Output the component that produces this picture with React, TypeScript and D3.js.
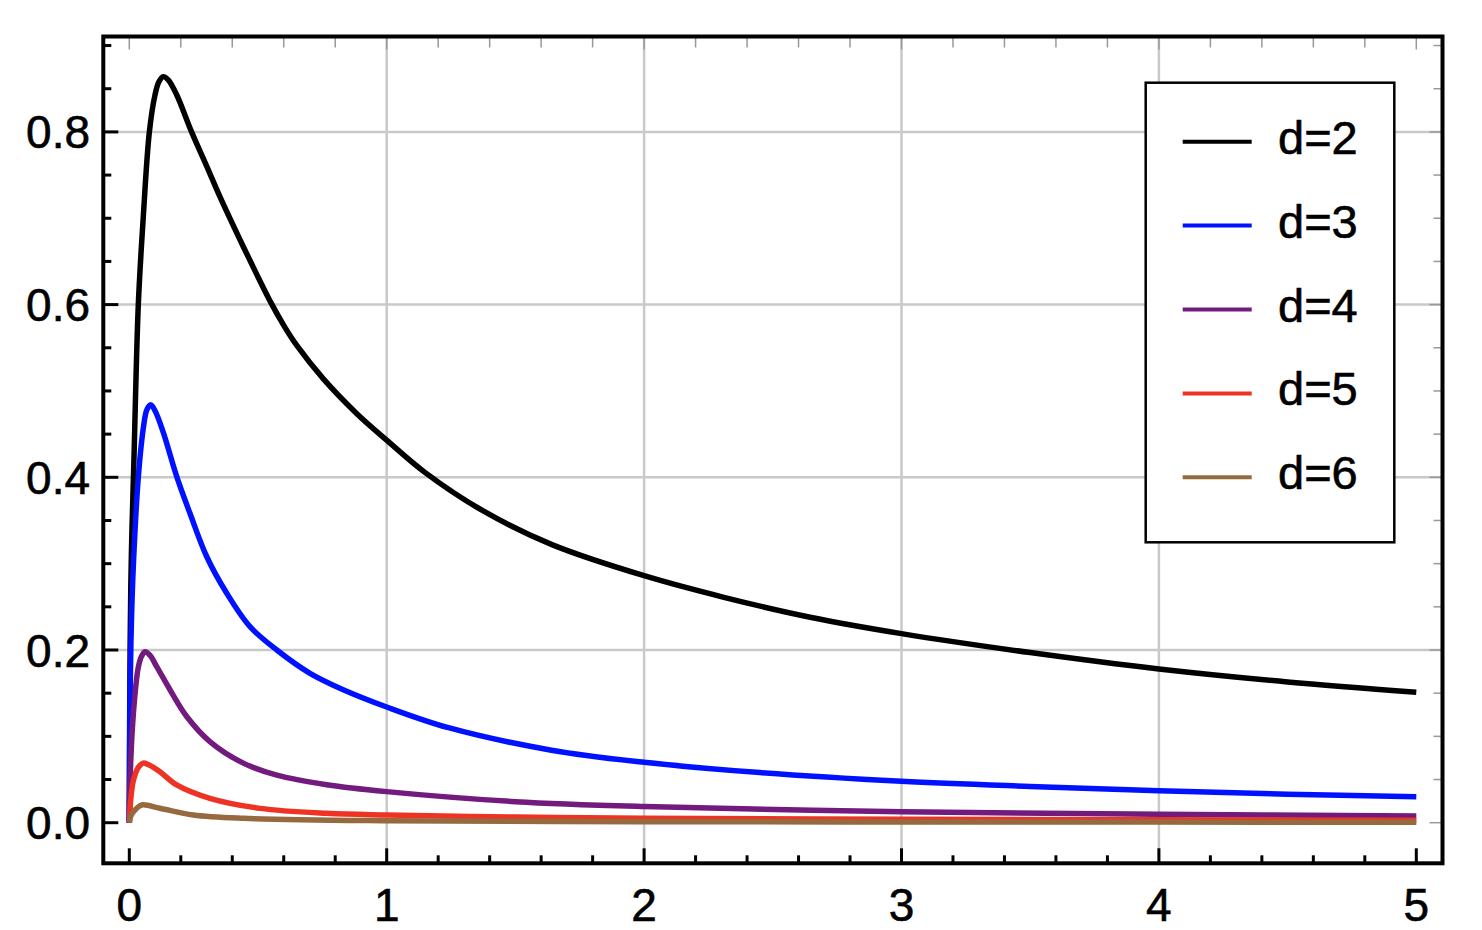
import React, { useEffect, useRef } from "react";
import * as d3 from "d3";

// series labels and colours
const labels = ["d=2", "d=3", "d=4", "d=5", "d=6"];
const colors = ["#000000", "#0011ff", "#721a7e", "#ee3224", "#946a3e"];

// values
const xD2 = [0, 0.003, 0.008, 0.018, 0.035, 0.054, 0.078, 0.1, 0.115, 0.132, 0.152, 0.184, 0.242, 0.301, 0.352, 0.443, 0.5, 0.547, 0.6, 0.65, 0.754, 0.883, 1.0, 1.147, 1.375, 1.642, 2.0, 2.31, 2.645, 3.0, 3.5, 4.0, 4.5, 5.0];
const yD2 = [0, 0.2, 0.31, 0.42, 0.6, 0.7, 0.8, 0.843, 0.858, 0.864, 0.86, 0.843, 0.8, 0.76, 0.725, 0.667, 0.632, 0.604, 0.576, 0.553, 0.514, 0.474, 0.443, 0.406, 0.361, 0.322, 0.286, 0.261, 0.238, 0.219, 0.197, 0.178, 0.163, 0.151];

const xD3 = [0, 0.003, 0.008, 0.016, 0.035, 0.055, 0.068, 0.083, 0.1, 0.132, 0.184, 0.236, 0.301, 0.378, 0.469, 0.573, 0.702, 0.831, 1.0, 1.24, 1.64, 2.0, 2.45, 3.0, 3.5, 4.0, 4.5, 5.0];
const yD3 = [0, 0.15, 0.23, 0.3, 0.4, 0.458, 0.478, 0.484, 0.477, 0.452, 0.401, 0.358, 0.308, 0.266, 0.227, 0.2, 0.173, 0.154, 0.134, 0.11, 0.084, 0.07, 0.058, 0.048, 0.042, 0.037, 0.033, 0.03];

const xD4 = [0, 0.003, 0.016, 0.035, 0.048, 0.061, 0.08, 0.106, 0.158, 0.223, 0.313, 0.443, 0.573, 0.767, 1.0, 1.5, 2.0, 3.0, 4.0, 5.0];
const yD4 = [0, 0.05, 0.127, 0.18, 0.193, 0.198, 0.194, 0.181, 0.154, 0.123, 0.094, 0.069, 0.055, 0.044, 0.036, 0.0244, 0.0187, 0.0127, 0.0097, 0.0078];

const xD5 = [0, 0.005, 0.016, 0.035, 0.054, 0.075, 0.119, 0.184, 0.313, 0.508, 0.767, 1.0, 1.5, 2.0, 3.0, 4.0, 5.0];
const yD5 = [0, 0.025, 0.049, 0.064, 0.069, 0.067, 0.059, 0.0437, 0.0282, 0.0166, 0.0109, 0.0089, 0.0065, 0.0052, 0.004, 0.0033, 0.0028];

const xD6 = [0, 0.006, 0.022, 0.048, 0.119, 0.249, 0.443, 1.0, 2.0, 3.0, 4.0, 5.0];
const yD6 = [0, 0.008, 0.0147, 0.0205, 0.0167, 0.0089, 0.0051, 0.0023, 0.0012, 0.0009, 0.0007, 0.0006];

const xTicks = [0, 1, 2, 3, 4, 5];
const yTicks = [0, 0.2, 0.4, 0.6, 0.8];

const seriesX = [xD2, xD3, xD4, xD5, xD6];
const seriesY = [yD2, yD3, yD4, yD5, yD6];

export default function App() {
  const ref = useRef<SVGSVGElement>(null);

  useEffect(() => {
    const W = 1482, H = 930;
    const svg = d3.select(ref.current);
    svg.selectAll("*").remove();

    const frame = { left: 103.3, right: 1442.5, top: 36.5, bottom: 863.3 };

    const x = d3.scaleLinear().domain([0, 5]).range([129.3, 1416.3]);
    const y = d3.scaleLinear().domain([0, 0.8]).range([822.7, 131.9]);

    // grid
    const grid = svg.append("g").attr("stroke", "#c9c9c9").attr("stroke-width", 2.5);
    [1, 2, 3, 4].forEach(v => {
      grid.append("line").attr("x1", x(v)).attr("x2", x(v)).attr("y1", frame.top).attr("y2", frame.bottom);
    });
    [0.2, 0.4, 0.6, 0.8].forEach(v => {
      grid.append("line").attr("y1", y(v)).attr("y2", y(v)).attr("x1", frame.left).attr("x2", frame.right);
    });

    // minor/major ticks
    const xMinor = d3.range(0, 26).map(i => i * 0.2);
    const yMinor = d3.range(0, 19).map(i => i * 0.05);
    const isMajorX = (v: number) => Math.abs(v - Math.round(v)) < 1e-6;
    const isMajorY = (v: number) => Math.abs(v * 5 - Math.round(v * 5)) < 1e-6;

    const ticks = svg.append("g");
    xMinor.forEach(v => {
      const big = isMajorX(v);
      ticks.append("line")
        .attr("x1", x(v)).attr("x2", x(v))
        .attr("y1", frame.bottom).attr("y2", frame.bottom - (big ? 15 : 8))
        .attr("stroke", "#000").attr("stroke-width", 3);
      ticks.append("line")
        .attr("x1", x(v)).attr("x2", x(v))
        .attr("y1", frame.top).attr("y2", frame.top + (big ? 13 : 11))
        .attr("stroke", "#999").attr("stroke-width", 1.5);
    });
    yMinor.forEach(v => {
      const big = isMajorY(v);
      ticks.append("line")
        .attr("y1", y(v)).attr("y2", y(v))
        .attr("x1", frame.left).attr("x2", frame.left + (big ? 15 : 8))
        .attr("stroke", "#000").attr("stroke-width", 3);
      ticks.append("line")
        .attr("y1", y(v)).attr("y2", y(v))
        .attr("x1", frame.right).attr("x2", frame.right - (big ? 13 : 9))
        .attr("stroke", "#999").attr("stroke-width", 1.5);
    });

    // curves
    const line = d3.line<[number, number]>()
      .x(d => x(d[0]))
      .y(d => y(d[1]))
      .curve(d3.curveCatmullRom.alpha(0.5));

    seriesX.forEach((xs, i) => {
      const pts = xs.map((v, j) => [v, seriesY[i][j]] as [number, number]);
      svg.append("path")
        .attr("d", line(pts))
        .attr("fill", "none")
        .attr("stroke", colors[i])
        .attr("stroke-width", 5.5)
        .attr("stroke-linejoin", "round");
    });

    // frame
    svg.append("rect")
      .attr("x", frame.left).attr("y", frame.top)
      .attr("width", frame.right - frame.left)
      .attr("height", frame.bottom - frame.top)
      .attr("fill", "none").attr("stroke", "#000").attr("stroke-width", 4);

    // tick labels
    const font = "'Liberation Sans', Arial, sans-serif";
    xTicks.forEach(v => {
      svg.append("text")
        .attr("x", x(v)).attr("y", 920.5)
        .attr("text-anchor", "middle")
        .style("font-family", font).style("font-size", "46px")
        .attr("stroke", "#000").attr("stroke-width", 0.6)
        .text(String(v));
    });
    yTicks.forEach(v => {
      svg.append("text")
        .attr("x", 90).attr("y", y(v) + 16.5)
        .attr("text-anchor", "end")
        .style("font-family", font).style("font-size", "46px")
        .attr("stroke", "#000").attr("stroke-width", 0.6)
        .text(v.toFixed(1));
    });

    // legend
    const lg = svg.append("g");
    lg.append("rect")
      .attr("x", 1145.7).attr("y", 82.7).attr("width", 248.6).attr("height", 459.6)
      .attr("fill", "#fff").attr("stroke", "#000").attr("stroke-width", 2.5);
    labels.forEach((lab, i) => {
      const ly = 141.7 + i * 83.9;
      lg.append("line")
        .attr("x1", 1182.7).attr("x2", 1251.7).attr("y1", ly).attr("y2", ly)
        .attr("stroke", colors[i]).attr("stroke-width", 4);
      lg.append("text")
        .attr("x", 1278).attr("y", ly + 12)
        .style("font-family", font).style("font-size", "47px")
        .attr("stroke", "#000").attr("stroke-width", 0.6)
        .text(lab);
    });

    svg.attr("width", W).attr("height", H);
  }, []);

  return (
    <div style={{ position: "absolute", left: 0, top: 0 }}>
      <svg ref={ref} width={1482} height={930} style={{ display: "block", background: "#fff" }} />
    </div>
  );
}
